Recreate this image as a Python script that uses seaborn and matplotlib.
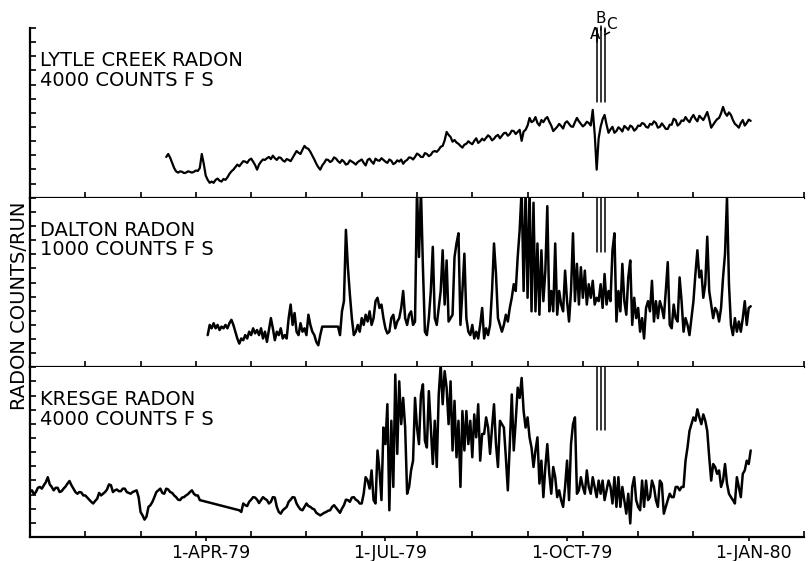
import numpy as np
import pandas as pd
import seaborn as sns
import matplotlib.pyplot as plt
import matplotlib.dates as mdates
from matplotlib.transforms import ScaledTranslation

nan = np.nan

# radon counts per run, daily readings (nan = no data, the trace bridges the gap)
lytle_start = '1979-03-12'
lytle_counts = [
    960, 1030, 940, 820, 700, 620, 590, 620, 610, 580,
    590, 620, 610, 590, 610, 640, 630, 700, 1030, 800,
    520, 420, 350, 380, 350, 420, 450, 400, 380, 440,
    420, 480, 560, 620, 660, 720, 780, 740, 800, 860,
    850, 820, 890, 920, 850, 770, 660, 780, 850, 900,
    890, 930, 960, 910, 990, 930, 890, 950, 940, 880,
    850, 910, 890, 860, 940, 1020, 1100, 1060, 1030, 1130,
    1220, 1170, 1150, 1080, 990, 900, 800, 720, 660, 760,
    820, 900, 890, 840, 870, 950, 920, 860, 820, 890,
    850, 780, 800, 880, 850, 820, 780, 840, 870, 900,
    820, 760, 890, 920, 850, 800, 920, 880, 870, 930,
    890, 850, 820, 900, 870, 790, 820, 880, 850, 900,
    800, 860, 890, 950, 940, 900, 960, 1040, 1010, 960,
    960, 1050, 1030, 980, 1010, 1080, 1100, 1080, 1130, 1200,
    1220, 1350, 1550, 1480, 1430, 1320, 1360, 1300, 1270, 1220,
    1180, 1250, 1270, 1330, 1290, 1260, 1340, 1400, 1290, 1330,
    1390, 1350, 1410, 1470, 1430, 1350, 1390, 1450, 1480, 1400,
    1460, 1520, 1530, 1460, 1500, 1580, 1570, 1500, 1550, 1600,
    1340, 1560, 1600, 1700, 1880, 1780, 1810, 1900, 1760, 1700,
    1830, 1780, 1860, 1900, 1790, 1700, 1570, 1620, 1670, 1740,
    1690, 1630, 1760, 1800, 1740, 1680, 1670, 1780, 1880, 1800,
    1740, 1680, 1720, 1790, 1760, 1700, 2070, 1500, 660, 1400,
    1670, 1850, 1950, 1720, 1530, 1610, 1670, 1530, 1570, 1660,
    1620, 1560, 1690, 1650, 1600, 1700, 1670, 1580, 1620, 1700,
    1690, 1760, 1740, 1670, 1650, 1740, 1720, 1800, 1760, 1650,
    1670, 1750, 1690, 1620, 1620, 1720, 1720, 1860, 1830, 1700,
    1740, 1820, 1810, 1900, 1830, 1780, 1880, 1950, 1860, 1800,
    1930, 1880, 1830, 1920, 2020, 1850, 1650, 1720, 1790, 1850,
    1880, 1990, 2140, 2000, 1930, 2010, 1950, 1830, 1740, 1700,
    1650, 1760, 1830, 1700, 1760, 1840, 1810]

dalton_start = '1979-04-02'
dalton_counts = [
    190, 250, 230, 260, 230, 250, 220, 240, 230, 250,
    230, 260, 280, 250, 210, 170, 140, 170, 160, 190,
    170, 210, 190, 230, 200, 220, 190, 230, 170, 210,
    150, 220, 290, 230, 160, 210, 190, 230, 170, 190,
    170, 290, 370, 250, 320, 210, 190, 260, 210, 230,
    190, 310, 250, 210, 190, 150, 130, 190, 240, nan,
    nan, nan, nan, nan, nan, nan, 240, 190, 330, 390,
    810, 590, 430, 290, 190, 210, 250, 210, 290, 250,
    310, 270, 330, 250, 290, 390, 410, 350, 370, 290,
    230, 200, 210, 290, 310, 230, 270, 290, 350, 450,
    290, 250, 310, 330, 250, 270, 1050, 650, 1050, 590,
    210, 190, 290, 450, 710, 290, 250, 350, 450, 690,
    370, 630, 270, 290, 310, 650, 730, 790, 250, 450,
    670, 290, 210, 190, 250, 170, 210, 170, 250, 350,
    170, 230, 190, 250, 450, 730, 550, 290, 250, 210,
    250, 310, 270, 350, 410, 490, 450, 650, 810, 1050,
    450, 1050, 410, 1050, 330, 970, 330, 730, 310, 690,
    390, 570, 950, 330, 450, 330, 730, 310, 450, 370,
    330, 570, 390, 270, 450, 790, 390, 610, 370, 590,
    410, 570, 370, 490, 410, 510, 370, 410, 390, 490,
    350, 550, 370, 450, 390, 690, 790, 270, 450, 330,
    610, 390, 310, 530, 630, 250, 410, 290, 350, 210,
    290, 170, 350, 390, 330, 510, 270, 390, 290, 390,
    350, 290, 450, 620, 250, 230, 370, 290, 270, 530,
    390, 210, 290, 250, 190, 290, 390, 550, 690, 530,
    570, 410, 490, 770, 450, 370, 290, 350, 330, 270,
    350, 530, 670, 1000, 490, 250, 190, 290, 210, 270,
    210, 290, 390, 250, 350, 360]

kresge_start = '1979-01-02'
kresge_counts = [
    1060, 1100, 1010, 1060, 1160, 1180, 1140, 1220, 1290, 1410,
    1240, 1180, 1100, 1160, 1160, 1060, 1080, 1140, 1190, 1260,
    1320, 1220, 1140, 1060, 1020, 1060, 1050, 980, 980, 930,
    880, 830, 790, 850, 900, 1040, 980, 1020, 1060, 1120,
    1240, 1220, 1060, 1100, 1120, 1080, 1080, 1140, 1140, 1060,
    1040, 1020, 1060, 1080, 1100, 940, 590, 510, 410, 480,
    710, 750, 830, 940, 1060, 1100, 1140, 1040, 1020, 1140,
    1120, 1060, 1040, 980, 940, 880, 870, 930, 940, 980,
    1010, 1060, 1100, 1020, 980, 980, 870, nan, nan, nan,
    nan, nan, nan, nan, nan, nan, nan, nan, nan, nan,
    nan, nan, nan, nan, nan, nan, 630, 590, 790, 750,
    730, 830, 880, 940, 930, 880, 800, 870, 940, 900,
    870, 790, 830, 940, 930, 710, 590, 550, 630, 670,
    710, 830, 880, 940, 930, 790, 710, 650, 630, 710,
    790, 730, 710, 670, 650, 570, 540, 510, 540, 570,
    590, 620, 630, 710, 750, 690, 630, 570, 670, 750,
    880, 870, 830, 930, 940, 880, 850, 790, 790, 1020,
    1410, 1330, 1140, 1570, 870, 790, 2040, 1570, 870, 2580,
    2190, 3130, 630, 2740, 1180, 3830, 1960, 3670, 2660, 3280,
    2580, 1020, 1180, 1570, 1800, 3280, 2580, 2190, 3360, 3600,
    2270, 2110, 3440, 2580, 1720, 2740, 1650, 3360, 4060, 3130,
    3910, 3520, 2660, 3670, 2040, 3210, 1880, 2740, 1180, 2970,
    2040, 2970, 2190, 2740, 1880, 2890, 2350, 3130, 1800, 2430,
    2430, 2820, 2580, 1960, 2580, 3130, 2190, 1650, 2740, 2660,
    2580, 1880, 1100, 2190, 3360, 2040, 2740, 3520, 3280, 3750,
    2970, 2580, 2820, 2350, 2110, 1650, 2040, 2350, 1260, 1800,
    940, 1650, 2190, 1490, 1020, 1650, 1410, 940, 1100, 870,
    710, 1180, 1800, 870, 2190, 2660, 2820, 1020, 1100, 1410,
    1180, 1020, 1570, 1180, 1020, 1410, 1180, 940, 1330, 1020,
    1330, 870, 1100, 1330, 1180, 790, 1410, 710, 1410, 710,
    1180, 870, 550, 1020, 320, 1180, 1410, 870, 710, 630,
    1330, 710, 1330, 870, 940, 1330, 1180, 870, 710, 1330,
    1260, 550, 710, 870, 1020, 940, 940, 1180, 1180, 1100,
    1180, 1180, 1800, 2110, 2500, 2660, 2820, 2740, 3010, 2820,
    2660, 2890, 2740, 2500, 1880, 1330, 1720, 1650, 1490, 1570,
    1180, 1330, 1720, 1260, 1020, 940, 870, 790, 1410, 1180,
    940, 1490, 1570, 1800, 1720, 2040]

panel_names = ['LYTLE CREEK RADON', 'DALTON RADON', 'KRESGE RADON']
full_scale = [4000, 1000, 4000]
month_labels = ['1-APR-79', '1-JUL-79', '1-OCT-79', '1-JAN-80']
month_dates = ['1979-04-01', '1979-07-01', '1979-10-01', '1980-01-01']
event_names = ['A', 'B', 'C']
event_dates = ['1979-10-16', '1979-10-18', '1979-10-20']

sns.set_style('ticks')
plt.rcParams['font.family'] = ['DejaVu Sans']
for key in ['text.color', 'axes.labelcolor', 'xtick.color', 'ytick.color']:
    plt.rcParams[key] = 'black'

fig, axes = plt.subplots(3, 1, figsize=(8.08, 5.61), dpi=100, sharex=True)
fig.subplots_adjust(left=30 / 808, right=804 / 808, bottom=1 - 537 / 561, top=1 - 28 / 561, hspace=0)

series = [(lytle_start, lytle_counts, 1.6),
          (dalton_start, dalton_counts, 1.8),
          (kresge_start, kresge_counts, 1.8)]
event_bottom = [0.565, 0.68, 0.63]

for ax, (start, counts, lw), name, fs, ev_low in zip(axes, series, panel_names, full_scale, event_bottom):
    df = pd.DataFrame({'date': pd.date_range(start, periods=len(counts), freq='D'),
                       'counts': counts}).dropna()
    sns.lineplot(data=df, x='date', y='counts', ax=ax, color='black', linewidth=lw, estimator=None)
    ax.set_ylim(0, fs)
    ax.set_yticks(np.linspace(0, fs, 13))
    ax.set_yticklabels([])
    ax.set_xlabel('')
    ax.set_ylabel('')
    for side in ['top', 'right']:
        ax.spines[side].set_visible(False)
    for side in ['left', 'bottom']:
        ax.spines[side].set_color('black')
        ax.spines[side].set_linewidth(1.6)
    ax.tick_params(axis='y', direction='in', length=4, width=1.2, left=True)

    # panel title
    ax.text(10 / 774, 0.776, name, transform=ax.transAxes, fontsize=14, va='baseline')
    ax.text(10 / 774, 0.66, '%d COUNTS F S' % fs, transform=ax.transAxes, fontsize=14, va='baseline')

    # event markers A, B, C
    trans = ax.get_xaxis_transform()
    for d in event_dates:
        xd = mdates.date2num(pd.Timestamp(d))
        ax.plot([xd, xd], [ev_low, 1.0], transform=trans, color='black', lw=1.1, clip_on=False)

# marker labels above the top panel
ax = axes[0]
trans = ax.get_xaxis_transform()
label_tops = [0.92, 1.01, 0.975]
label_shift = [-0.8, 0.2, 3.4]
for nm, d, top, sh in zip(event_names, event_dates, label_tops, label_shift):
    xd = mdates.date2num(pd.Timestamp(d))
    ax.plot([xd, xd], [0.99, top], transform=trans, color='black', lw=1.1, clip_on=False)
    if nm == 'C':
        ax.plot([xd, xd + 2.5], [0.96, top], transform=trans, color='black', lw=1.1, clip_on=False)
    ax.text(xd + sh, top, nm, transform=trans, ha='center', va='bottom', fontsize=11)

x_min = pd.Timestamp('1979-01-02')
x_max = pd.Timestamp('1980-01-29')
axes[-1].set_xlim(x_min, x_max)
axes[-1].set_xticks(pd.to_datetime(month_dates))
axes[-1].set_xticklabels(month_labels)
axes[-1].set_xticks(pd.date_range(x_min, x_max, freq='28D'), minor=True)

for i, ax in enumerate(axes):
    ax.tick_params(axis='x', which='major', direction='out', length=3 if i == 2 else 0,
                   width=1.2, labelsize=12.5, pad=2)
    ax.tick_params(axis='x', which='minor', direction='in', length=4.5, width=1.2, bottom=True)

for lbl in axes[-1].get_xticklabels():
    lbl.set_transform(lbl.get_transform() + ScaledTranslation(5 / 100, 0, fig.dpi_scale_trans))

fig.text(19.5 / 808, 1 - 306 / 561, 'RADON COUNTS/RUN', rotation=90, ha='center', va='center', fontsize=14)

fig.savefig('out.png', dpi=100)
